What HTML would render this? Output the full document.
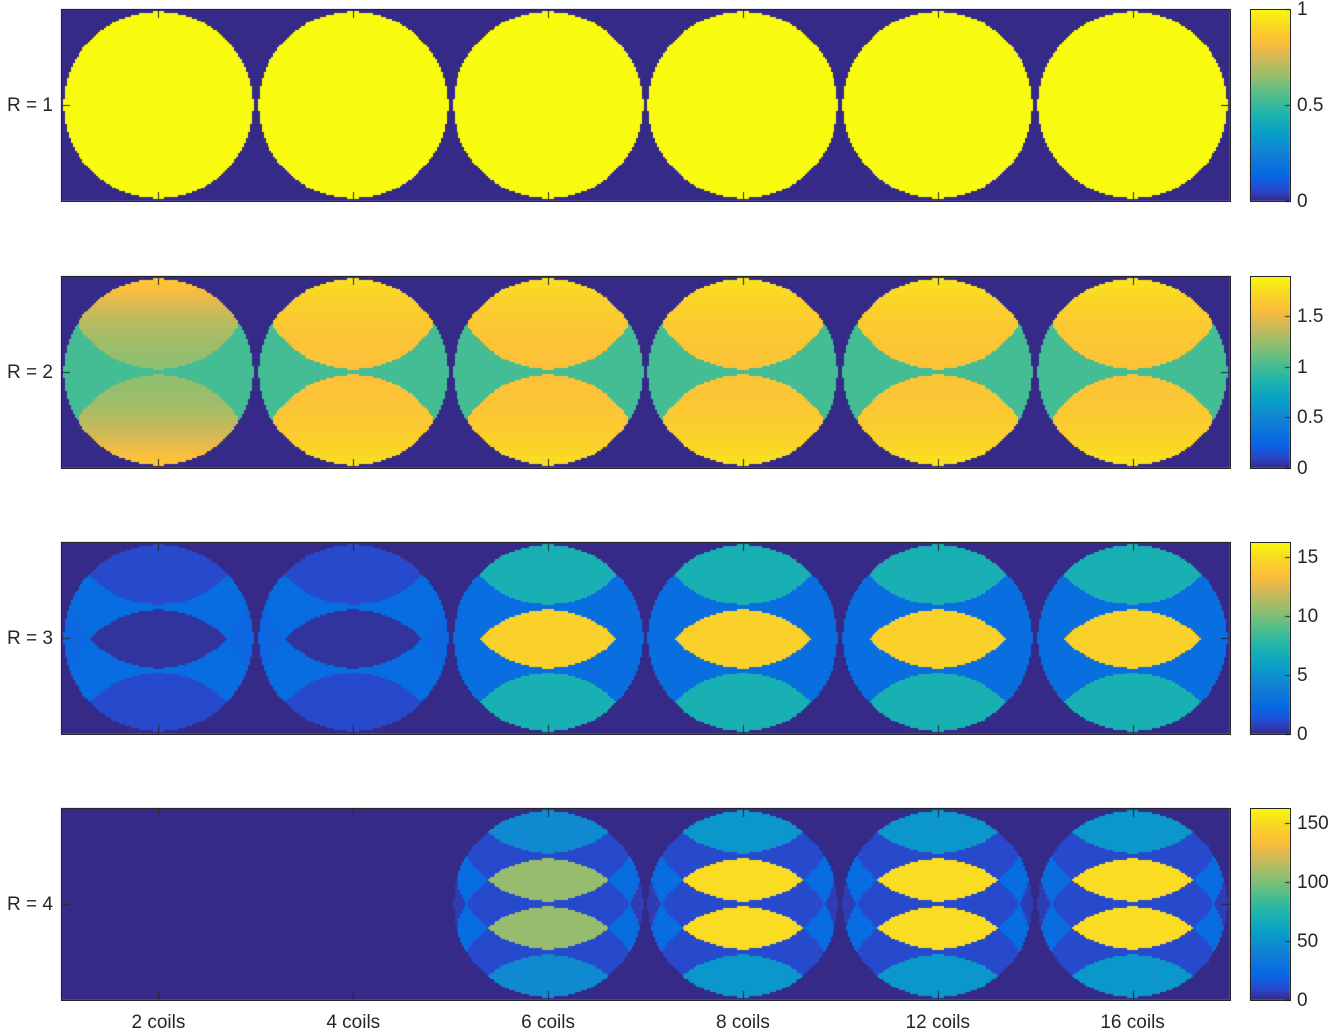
<!DOCTYPE html>
<html><head><meta charset="utf-8">
<style>
body{margin:0;background:#fff;width:1331px;height:1034px;position:relative;overflow:hidden;font-family:"Liberation Sans",sans-serif;color:#262626}
canvas{position:absolute;left:0;top:0}
.frame{position:absolute;border:1px solid #262626;box-sizing:border-box}
.lbl{position:absolute;font-size:19px;white-space:nowrap}
</style></head><body>
<canvas id="cv" width="1331" height="1034"></canvas>
<div id="ov"></div>
<script>
const coilLabels=["2 coils","4 coils","6 coils","8 coils","12 coils","16 coils"];
const rowLabels=["R = 1","R = 2","R = 3","R = 4"];
const accel=[1,2,3,4];
const cmax=[1,1.9,16.3,163];
const cbTicks=[[0,0.5,1],[0,0.5,1,1.5],[0,5,10,15],[0,50,100,150]];
const r1Inside=[1,1,1,1,1,1];
const r2Single=[1,1,1,1,1,1];
const r2Lens=[1.22,1.58,1.58,1.6,1.6,1.6];
const r2Grad=[0.45,0.2,0.2,0.2,0.2,0.2];
const r3Single=[2.2,2.2,2.6,2.6,2.6,2.6];
const r3Pair=[2.5,2.5,2.6,2.6,2.6,2.6];
const r3Outer=[1.0,1.0,7.0,7.0,7.0,7.0];
const r3Center=[0.3,0.3,14.5,14.5,14.5,14.5];
const r4Single=[0,0,6,6,6,6];
const r4Pair=[0,0,25,25,25,25];
const r4Triple=[0,0,10,10,10,10];
const r4Outer=[0,0,45,52,52,52];
const r4Inner=[0,0,106,150,150,150];

const L=61,W=1169,H=192,tops=[9,276,542,808],CBX=1250,CBW=40;
const N=100,RAD=48.6;
const stops=[[0,53,42,135],[0.05,45,68,198],[0.1,20,92,225],[0.15,8,108,225],[0.25,18,130,212],[0.35,8,160,200],[0.45,30,180,175],[0.55,80,190,140],[0.65,150,190,110],[0.75,215,185,85],[0.82,252,190,60],[0.9,250,212,40],[1,249,251,14]];
function cmap(t){t=Math.max(0,Math.min(1,t));for(let i=1;i<stops.length;i++){if(t<=stops[i][0]){const a=stops[i-1],b=stops[i],f=(t-a[0])/(b[0]-a[0]);return [a[1]+f*(b[1]-a[1]),a[2]+f*(b[2]-a[2]),a[3]+f*(b[3]-a[3])];}}return stops[stops.length-1].slice(1);}
function inside(x,y){const dx=x+0.5-50,dy=y+0.5-50;return dx*dx+dy*dy<=RAD*RAD;}
function gval(p,c,n,rank,y){
  if(p===0)return r1Inside[c];
  if(p===1){if(n===1)return r2Single[c];const d=(y+0.5-50)/50;return r2Lens[c]+r2Grad[c]*d*d;}
  if(p===2){if(n===1)return r3Single[c];if(n===2)return r3Pair[c];return rank===1?r3Center[c]:r3Outer[c];}
  if(n===1)return r4Single[c];if(n===2)return r4Pair[c];if(n===3)return r4Triple[c];
  return (rank===0||rank===3)?r4Outer[c]:r4Inner[c];
}
const cv=document.getElementById('cv'),ctx=cv.getContext('2d');
const ov=document.getElementById('ov');
function xTile(i){return L+W*(i+0.5)/coilLabels.length;}
function yVal(p,v){return tops[p]+H-(v/cmax[p])*H;}
accel.forEach((R,p)=>{
  const off=document.createElement('canvas');off.width=N*coilLabels.length;off.height=N;
  const octx=off.getContext('2d');const img=octx.createImageData(off.width,N);
  for(let c=0;c<coilLabels.length;c++){
    for(let y=0;y<N;y++)for(let x=0;x<N;x++){
      let v=0;
      if(inside(x,y)){
        const list=[];
        for(let k=0;k<R;k++){const ya=y+k*N/R;const yw=ya%N;if(inside(x,Math.floor(yw)))list.push(yw);}
        list.sort((a,b)=>a-b);
        const rank=list.indexOf(y);
        v=gval(p,c,list.length,rank,y);
      }
      const col=cmap(v/cmax[p]);const idx=(y*off.width+c*N+x)*4;
      img.data[idx]=col[0];img.data[idx+1]=col[1];img.data[idx+2]=col[2];img.data[idx+3]=255;
    }
  }
  octx.putImageData(img,0,0);
  ctx.imageSmoothingEnabled=false;
  ctx.drawImage(off,L,tops[p],W,H);
  for(let j=0;j<H;j++){const col=cmap(1-(j+0.5)/H);ctx.fillStyle=`rgb(${col[0]|0},${col[1]|0},${col[2]|0})`;ctx.fillRect(CBX,tops[p]+j,CBW,1);}
  ctx.strokeStyle='#262626';ctx.lineWidth=1;
  ctx.beginPath();
  for(let c=0;c<coilLabels.length;c++){const x=Math.round(xTile(c))+0.5;ctx.moveTo(x,tops[p]);ctx.lineTo(x,tops[p]+9);ctx.moveTo(x,tops[p]+H);ctx.lineTo(x,tops[p]+H-9);}
  const ym=Math.round(tops[p]+H/2)+0.5;ctx.moveTo(L,ym);ctx.lineTo(L+9,ym);ctx.moveTo(L+W,ym);ctx.lineTo(L+W-9,ym);
  cbTicks[p].forEach(t=>{const y=Math.round(yVal(p,t))+0.5;ctx.moveTo(CBX+CBW,y);ctx.lineTo(CBX+CBW-5,y);});
  ctx.stroke();
  const fr=document.createElement('div');fr.className='frame';
  
  
  fr.style.cssText=`left:${L}px;top:${tops[p]}px;width:${W+1}px;height:${H+1}px`;ov.appendChild(fr);
  const cf=document.createElement('div');cf.className='frame';
  
  
  cf.style.cssText=`left:${CBX}px;top:${tops[p]}px;width:${CBW+1}px;height:${H+1}px`;ov.appendChild(cf);
  const rl=document.createElement('div');rl.className='lbl';rl.textContent=rowLabels[p];
  
  
  rl.style.cssText=`left:7px;top:${tops[p]+H/2-10}px`;ov.appendChild(rl);
  cbTicks[p].forEach(t=>{const tl=document.createElement('div');tl.className='lbl';tl.textContent=String(t);
    
    
    tl.style.cssText=`left:1297px;top:${yVal(p,t)-10}px`;ov.appendChild(tl);});
});
coilLabels.forEach((s,c)=>{const d=document.createElement('div');d.className='lbl';d.textContent=s;
  
  
  d.style.cssText=`left:${xTile(c)}px;top:1012px;transform:translateX(-50%)`;ov.appendChild(d);});
</script>
</body></html>
